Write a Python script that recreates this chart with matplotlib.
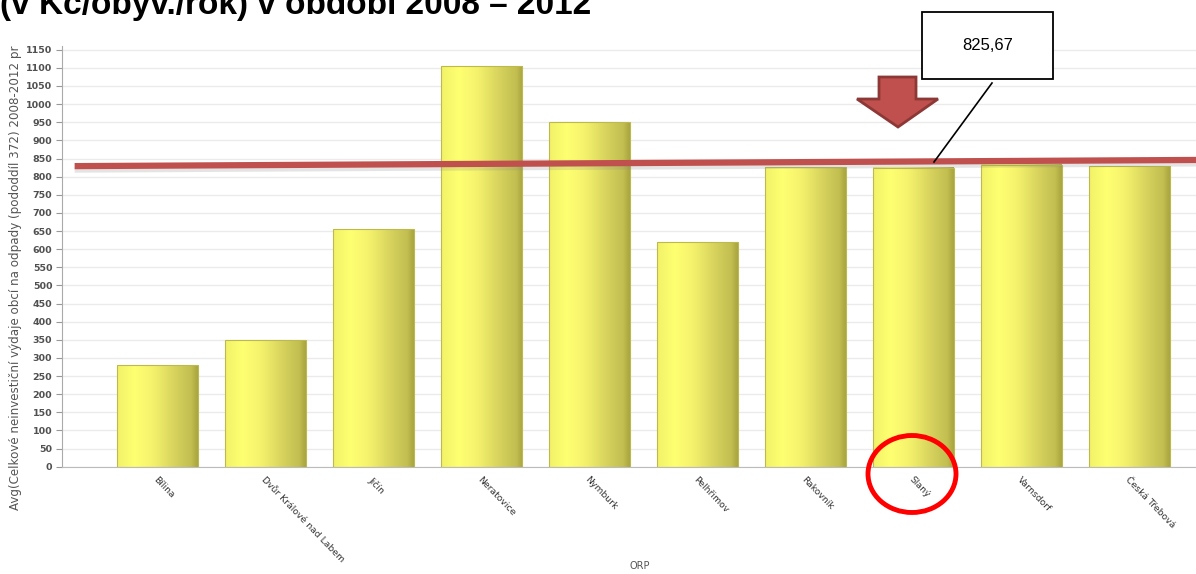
import numpy as np
import matplotlib
matplotlib.use("Agg")
import matplotlib.pyplot as plt
import matplotlib.patheffects as pe
from matplotlib.colors import LinearSegmentedColormap
from matplotlib.patches import Ellipse, Polygon, Rectangle

categories = ['Bílina', 'Dvůr Králové nad Labem', 'Jičín', 'Neratovice', 'Nymburk',
              'Pelhřimov', 'Rakovník', 'Slaný', 'Varnsdorf', 'Česká Třebová']
values = [281, 350, 655, 1105, 951, 620, 826, 825, 833, 830]
yticks = list(range(0, 1151, 50))
avg_label = '825,67'
avg_line = [829, 846]   # hand drawn red line, slightly tilted

W, H = 1196, 574
fig = plt.figure(figsize=(W / 100, H / 100), dpi=100)

def fx(px):
    return px / W

def fy(py):
    return 1 - py / H

ax = fig.add_axes([fx(62), fy(466.7), 1 - fx(62), (466.7 - 46.1) / H])

x = np.arange(len(categories))
bars = ax.bar(x, values, width=0.75, color='none', edgecolor='none', zorder=2)

cmap = LinearSegmentedColormap.from_list('bar', [
    (0.0, '#F2F268'), (0.22, '#FFFF72'), (0.45, '#F4F26C'),
    (0.7, '#D8D45E'), (0.92, '#C2BE50'), (1.0, '#A8A440')])
grad = np.linspace(0, 1, 256).reshape(1, -1)
for b in bars:
    x0, w, h = b.get_x(), b.get_width(), b.get_height()
    ax.imshow(grad, extent=[x0, x0 + w, 0, h], aspect='auto', cmap=cmap, zorder=2)
    ax.add_patch(Rectangle((x0, 0), w, h, fill=False, edgecolor='#BDB94C', lw=0.8, zorder=3))

ax.set_xlim(-0.887, 9.613)
ax.set_ylim(0, 1160)
ax.set_yticks(yticks)
ax.tick_params(axis='y', labelsize=6.8, labelcolor='#505050', color='#999999', length=4, pad=3)
for t in ax.get_yticklabels():
    t.set_fontweight('bold')
ax.set_xticks(x)
ax.set_xticklabels(categories, rotation=-46, ha='left', va='top',
                   rotation_mode='anchor', fontsize=6.7, color='#333333')
ax.tick_params(axis='x', length=0, pad=6)
ax.grid(axis='y', color='#EBEBEB', lw=1)
ax.set_axisbelow(True)
for s in ['top', 'right']:
    ax.spines[s].set_visible(False)
ax.spines['left'].set_color('#AAAAAA')
ax.spines['bottom'].set_color('#BBBBBB')

ax.set_ylabel('Avg(Celkové neinvestiční výdaje obcí na odpady (pododdíl 372) 2008-2012 pr',
              fontsize=8.6, color='#555555')
ax.yaxis.set_label_coords(-0.035, 0.45)
fig.text(fx(640), fy(566), 'ORP', fontsize=7, color='#555555', ha='center', va='center')

# red average line with soft shadow
ax.plot([-0.77, 9.613], avg_line, color='#C0504D', lw=4.5, zorder=5, solid_capstyle='butt',
        path_effects=[pe.SimpleLineShadow(offset=(0, -2.5), shadow_color='#888888', alpha=0.22),
                      pe.Normal()])

# title (cut at the top)
fig.text(0.0, fy(14), '(v Kč/obyv./rok) v období 2008 – 2012', fontsize=24,
         fontweight='bold', family='Liberation Sans', va='baseline', ha='left')

# callout box
fig.patches.append(Rectangle((fx(922), fy(79)), fx(1053) - fx(922), (79 - 12) / H,
                             transform=fig.transFigure, facecolor='white',
                             edgecolor='black', lw=1.3, zorder=10))
fig.text(fx(987.5), fy(46), avg_label, fontsize=12, family='Liberation Sans',
         ha='center', va='center', zorder=11)
fig.lines.append(plt.Line2D([fx(992), fx(934)], [fy(83), fy(162)],
                            transform=fig.transFigure, color='black', lw=1.2, zorder=10))

# block arrow
arrow_px = [(879, 77), (916, 77), (916, 99), (938, 99), (898, 127), (857, 99), (879, 99)]
fig.patches.append(Polygon([(fx(a), fy(b)) for a, b in arrow_px], closed=True,
                           transform=fig.transFigure, facecolor='#C0504D',
                           edgecolor='#8C3836', lw=2, zorder=10))

# circle around Slaný
fig.patches.append(Ellipse((fx(912), fy(474)), 88 / W, 77 / H, transform=fig.transFigure,
                           fill=False, edgecolor='#FF0000', lw=3.5, zorder=10))

fig.savefig('out.png', dpi=100)
